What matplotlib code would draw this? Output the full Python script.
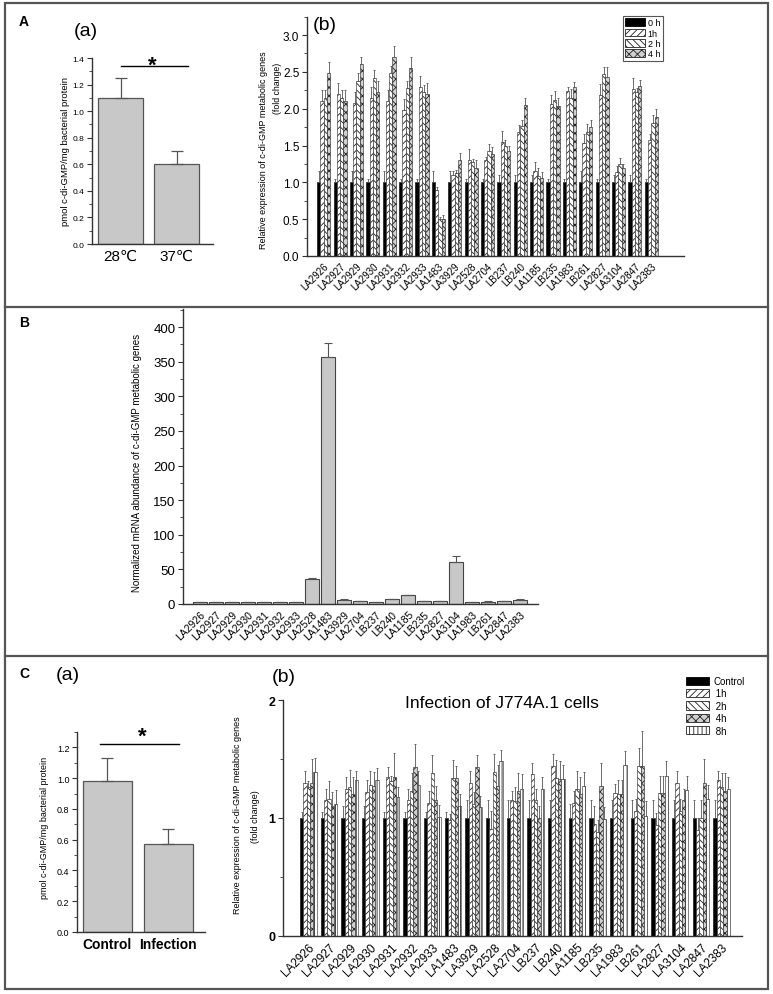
import matplotlib
matplotlib.use('Agg')
import matplotlib.pyplot as plt
from matplotlib.patches import Rectangle, Patch
from matplotlib.lines import Line2D
from matplotlib.ticker import MultipleLocator
import numpy as np

plt.rcParams['font.family'] = ['Liberation Sans', 'DejaVu Sans']
plt.rcParams['hatch.linewidth'] = 0.6

W, H = 773, 995

# ---------------- data ----------------
# A(a)
temp_labels = ['28℃', '37℃']
temp_vals = [1.10, 0.60]
temp_err = [0.15, 0.10]

# A(b)
genes_ab = ['LA2926', 'LA2927', 'LA2929', 'LA2930', 'LA2931', 'LA2932', 'LA2933',
            'LA1483', 'LA3929', 'LA2528', 'LA2704', 'LB237', 'LB240', 'LA1185',
            'LB235', 'LA1983', 'LB261', 'LA2827', 'LA3104', 'LA2847', 'LA2383']
ab_labels = ['0 h', '1h', '2 h', '4 h']
ab_0h = [1.0] * 21
ab_0h_err = [0.15, 0.05, 0.15, 0.05, 0.15, 0.05, 0.05, 0.15, 0.15, 0.05, 0.05,
             0.10, 0.10, 0.10, 0.05, 0.05, 0.15, 0.05, 0.10, 0.10, 0.05]
ab_1h = [2.10, 2.20, 2.08, 2.15, 2.10, 1.98, 2.30, 0.90, 1.10, 1.30, 1.30,
         1.55, 1.68, 1.15, 2.06, 2.24, 1.53, 2.19, 1.14, 2.27, 1.58]
ab_1h_err = [0.15, 0.15, 0.15, 0.15, 0.15, 0.15, 0.15, 0.03, 0.05, 0.15, 0.05,
             0.15, 0.10, 0.12, 0.12, 0.05, 0.12, 0.15, 0.08, 0.15, 0.07]
ab_2h = [2.15, 2.15, 2.38, 2.42, 2.48, 2.28, 2.22, 0.50, 1.12, 1.27, 1.42,
         1.49, 1.77, 1.08, 2.12, 2.15, 1.69, 2.47, 1.25, 2.23, 1.81]
ab_2h_err = [0.10, 0.10, 0.10, 0.10, 0.10, 0.10, 0.10, 0.03, 0.05, 0.05, 0.10,
             0.08, 0.07, 0.12, 0.12, 0.12, 0.10, 0.10, 0.08, 0.05, 0.10]
ab_4h = [2.48, 2.10, 2.60, 2.23, 2.70, 2.55, 2.20, 0.50, 1.30, 1.20, 1.38,
         1.42, 2.05, 1.06, 2.04, 2.29, 1.75, 2.43, 1.19, 2.31, 1.89]
ab_4h_err = [0.15, 0.15, 0.10, 0.15, 0.15, 0.15, 0.15, 0.05, 0.10, 0.10, 0.10,
             0.08, 0.10, 0.08, 0.10, 0.07, 0.10, 0.14, 0.06, 0.08, 0.10]

# B
genes_b = ['LA2926', 'LA2927', 'LA2929', 'LA2930', 'LA2931', 'LA2932', 'LA2933',
           'LA2528', 'LA1483', 'LA3929', 'LA2704', 'LB237', 'LB240', 'LA1185',
           'LB235', 'LA2827', 'LA3104', 'LA1983', 'LB261', 'LA2847', 'LA2383']
b_vals = [2.5, 2.5, 2.5, 2.5, 2.5, 2.5, 2.5, 36, 357, 6, 4, 3, 7, 13,
          4.5, 4.5, 60, 3, 3.5, 4, 6]
b_err = [0.3, 0.3, 0.3, 0.3, 0.3, 0.3, 0.3, 1.5, 20, 0.5, 0.3, 0.3, 0.5, 0.6,
         0.3, 0.3, 10, 0.3, 0.3, 0.3, 0.6]

# C(a)
inf_labels = ['Control', 'Infection']
inf_vals = [0.98, 0.57]
inf_err = [0.15, 0.10]

# C(b)
genes_cb = genes_ab
cb_labels = ['Control', ' 1h', ' 2h', ' 4h', ' 8h']
cb_ctrl = [1.0] * 21
cb_ctrl_err = [0.05, 0.05, 0.10, 0.10, 0.05, 0.05, 0.05, 0.05, 0.15, 0.15, 0.15,
               0.15, 0.15, 0.12, 0.15, 0.15, 0.15, 0.15, 0.15, 0.15, 0.15]
cb_1h = [1.30, 1.15, 1.25, 1.22, 1.35, 1.15, 1.13, 0.98, 1.30, 0.91, 1.15,
         1.37, 1.44, 1.13, 0.95, 1.21, 1.06, 0.94, 1.30, 0.90, 1.32]
cb_1h_err = [0.10, 0.10, 0.10, 0.10, 0.08, 0.10, 0.10, 0.05, 0.10, 0.15, 0.08,
             0.10, 0.10, 0.10, 0.15, 0.08, 0.10, 0.10, 0.10, 0.10, 0.08]
cb_2h = [1.26, 1.16, 1.26, 1.28, 1.31, 1.23, 1.38, 1.34, 1.12, 1.39, 1.14,
         1.15, 1.34, 1.25, 0.88, 1.20, 1.44, 1.21, 1.06, 1.00, 1.26]
cb_2h_err = [0.05, 0.15, 0.15, 0.12, 0.05, 0.15, 0.15, 0.15, 0.10, 0.15, 0.12,
             0.10, 0.15, 0.15, 0.10, 0.12, 0.15, 0.15, 0.10, 0.15, 0.12]
cb_4h = [1.30, 1.10, 1.20, 1.27, 1.35, 1.43, 1.15, 1.34, 1.43, 1.27, 1.23,
         1.00, 1.33, 1.20, 1.27, 1.20, 1.44, 1.21, 1.15, 1.30, 1.23]
cb_4h_err = [0.20, 0.12, 0.15, 0.12, 0.20, 0.20, 0.12, 0.10, 0.10, 0.18, 0.15,
             0.10, 0.15, 0.15, 0.20, 0.12, 0.30, 0.15, 0.10, 0.20, 0.15]
cb_8h = [1.39, 1.12, 1.32, 1.32, 1.18, 1.28, 1.01, 1.10, 1.09, 1.48, 1.25,
         1.25, 1.33, 1.27, 0.99, 1.45, 1.02, 1.36, 1.24, 1.16, 1.25]
cb_8h_err = [0.12, 0.12, 0.08, 0.10, 0.08, 0.12, 0.10, 0.10, 0.10, 0.10, 0.12,
             0.10, 0.12, 0.12, 0.10, 0.12, 0.12, 0.12, 0.12, 0.12, 0.10]

# ---------------- figure ----------------
fig = plt.figure(figsize=(W / 100, H / 100), dpi=100)

def axpx(x0, y0, x1, y1):
    return fig.add_axes([x0 / W, 1 - y1 / H, (x1 - x0) / W, (y1 - y0) / H])

def ftext(x, y, s, **kw):
    fig.text(x / W, 1 - y / H, s, **kw)

SP = '#333333'
GRAY = '#c8c8c8'

def style(ax, ylab_size):
    for s in ['top', 'right']:
        ax.spines[s].set_visible(False)
    for s in ['left', 'bottom']:
        ax.spines[s].set_color(SP)
        ax.spines[s].set_linewidth(1.0)
    ax.tick_params(axis='y', direction='out', length=3.5, width=0.8, color=SP,
                   labelsize=ylab_size, pad=2)
    ax.tick_params(axis='y', which='minor', direction='out', length=2, width=0.6, color=SP)
    ax.tick_params(axis='x', length=0)

def up_err(ax, x, y, e, cap=1.5, lw=0.7):
    ax.errorbar(x, y, yerr=[np.zeros(len(e)), e], fmt='none', ecolor='#555555',
                elinewidth=lw, capsize=cap, capthick=lw)

# border
border = Rectangle((5 / W, 1 - 990 / H), 763 / W, 986 / H, transform=fig.transFigure,
                   fill=False, edgecolor='#555555', linewidth=1.6)
fig.add_artist(border)
for yy in [308, 657]:
    fig.add_artist(Line2D([5 / W, 768 / W], [1 - yy / H, 1 - yy / H],
                          transform=fig.transFigure, color='#555555', linewidth=1.6))

# ---------------- A(a) ----------------
ax = axpx(92, 59, 213, 245)
xa = np.arange(2)
ax.bar(xa, temp_vals, width=0.8, color=GRAY, edgecolor='#555555', linewidth=0.9)
up_err(ax, xa, temp_vals, temp_err, cap=4, lw=0.9)
ax.set_xlim(-0.51, 1.65)
ax.set_ylim(0, 1.4)
ax.yaxis.set_major_locator(MultipleLocator(0.2))
ax.yaxis.set_minor_locator(MultipleLocator(0.1))
ax.set_yticklabels([f'{v:.1f}' for v in ax.get_yticks()])
style(ax, 6)
ax.set_xticks(xa)
ax.set_xticklabels(temp_labels, fontsize=11)
ax.plot([0.0, 1.2], [1.34, 1.34], color='black', lw=1.0, clip_on=False)
ftext(65, 152, 'pmol c-di-GMP/mg bacterial protein', rotation=90, fontsize=6.8,
      ha='center', va='center')
ftext(152, 66, '*', fontsize=16, fontweight='bold', ha='center', va='center')
ftext(24, 22, 'A', fontsize=10, fontweight='bold', ha='center', va='center')
ftext(86, 31, '(a)', fontsize=14, ha='center', va='center')

# ---------------- A(b) ----------------
ax = axpx(307, 17.6, 684, 257)
xg = np.arange(len(genes_ab))
bw = 0.2
series = [
    (ab_0h, ab_0h_err, dict(facecolor='black', edgecolor='black')),
    (ab_1h, ab_1h_err, dict(facecolor='white', edgecolor='#222222', hatch='/////')),
    (ab_2h, ab_2h_err, dict(facecolor='white', edgecolor='#222222', hatch='\\\\\\\\\\')),
    (ab_4h, ab_4h_err, dict(facecolor='#d0d0d0', edgecolor='#222222', hatch='xxxx')),
]
handles = []
for j, (v, e, kw) in enumerate(series):
    xs = xg + (j - 1.5) * bw
    ax.bar(xs, v, width=bw, linewidth=0.4, **kw)
    up_err(ax, xs, v, e, cap=1.0, lw=0.6)
    handles.append(Patch(linewidth=0.6, **kw))
ax.set_xlim(-1.02, 22.0)
ax.set_ylim(0, 3.25)
ax.yaxis.set_major_locator(MultipleLocator(0.5))
ax.yaxis.set_minor_locator(MultipleLocator(0.25))
ax.set_yticklabels([f'{v:.1f}' for v in ax.get_yticks()])
style(ax, 8.5)
ax.set_xticks(xg)
ax.set_xticklabels(genes_ab, rotation=45, ha='right', rotation_mode='anchor', fontsize=7)
ftext(263, 150, 'Relative expression of c-di-GMP metabolic genes', rotation=90,
      fontsize=6.5, ha='center', va='center')
ftext(278, 88, '(fold change)', rotation=90, fontsize=6.3, ha='center', va='center')
ftext(325, 25, '(b)', fontsize=14, ha='center', va='center')
leg = fig.legend(handles, ab_labels, loc='upper left', bbox_to_anchor=(623 / W, 1 - 17 / H),
                 fontsize=6.5, handlelength=2.2, handleheight=0.9, labelspacing=0.15,
                 borderpad=0.25, handletextpad=0.3, borderaxespad=0, fancybox=False,
                 framealpha=1)
leg.get_frame().set_edgecolor('#555555')
leg.get_frame().set_linewidth(0.8)

# ---------------- B ----------------
ax = axpx(183, 310, 538, 605)
xb = np.arange(len(genes_b))
ax.bar(xb, b_vals, width=0.85, color=GRAY, edgecolor='#444444', linewidth=0.8)
up_err(ax, xb, b_vals, b_err, cap=3, lw=0.8)
ax.set_xlim(-1.05, 21.12)
ax.set_ylim(0, 426)
ax.yaxis.set_major_locator(MultipleLocator(50))
ax.yaxis.set_minor_locator(MultipleLocator(25))
style(ax, 9.5)
ax.set_xticks(xb)
ax.set_xticklabels(genes_b, rotation=45, ha='right', rotation_mode='anchor', fontsize=7.5)
ftext(137, 463, 'Normalized mRNA abundance of c-di-GMP metabolic genes', rotation=90,
      fontsize=7, ha='center', va='center')
ftext(24, 323, 'B', fontsize=10, fontweight='bold', ha='center', va='center')

# ---------------- C(a) ----------------
ax = axpx(77, 733, 205, 933)
xc = np.arange(2)
ax.bar(xc, inf_vals, width=0.8, color=GRAY, edgecolor='#555555', linewidth=0.9)
up_err(ax, xc, inf_vals, inf_err, cap=4, lw=0.9)
ax.set_xlim(-0.5, 1.6)
ax.set_ylim(0, 1.3)
ax.yaxis.set_minor_locator(MultipleLocator(0.1))
ax.set_yticks(np.arange(0, 1.21, 0.2))
ax.set_yticklabels([f'{v:.1f}' for v in np.arange(0, 1.21, 0.2)])
style(ax, 6.5)
ax.set_xticks(xc)
ax.set_xticklabels(inf_labels, fontsize=10, fontweight='bold')
ax.plot([-0.13, 1.17], [1.22, 1.22], color='black', lw=1.0, clip_on=False)
ftext(142, 737, '*', fontsize=16, fontweight='bold', ha='center', va='center')
ftext(45, 828, 'pmol c-di-GMP/mg bacterial protein', rotation=90, fontsize=6.5,
      ha='center', va='center')
ftext(24, 674, 'C', fontsize=10, fontweight='bold', ha='center', va='center')
ftext(68, 676, '(a)', fontsize=14, ha='center', va='center')

# ---------------- C(b) ----------------
ax = axpx(283, 701, 742, 937)
xg = np.arange(len(genes_cb))
bw = 0.16
series = [
    (cb_ctrl, cb_ctrl_err, dict(facecolor='black', edgecolor='black')),
    (cb_1h, cb_1h_err, dict(facecolor='white', edgecolor='#222222', hatch='/////')),
    (cb_2h, cb_2h_err, dict(facecolor='white', edgecolor='#222222', hatch='\\\\\\\\\\')),
    (cb_4h, cb_4h_err, dict(facecolor='#d0d0d0', edgecolor='#222222', hatch='xxxx')),
    (cb_8h, cb_8h_err, dict(facecolor='white', edgecolor='#222222', hatch='||||')),
]
handles = []
for j, (v, e, kw) in enumerate(series):
    xs = xg + (j - 2) * bw
    ax.bar(xs, v, width=bw, linewidth=0.4, **kw)
    up_err(ax, xs, v, e, cap=1.0, lw=0.6)
    handles.append(Patch(linewidth=0.6, **kw))
ax.set_xlim(-1.23, 20.99)
ax.set_ylim(0, 2)
ax.set_yticks([0, 1, 2])
ax.set_yticklabels(['0', '1', '2'], fontweight='bold')
ax.yaxis.set_minor_locator(MultipleLocator(0.5))
style(ax, 9)
ax.set_xticks(xg)
ax.set_xticklabels(genes_cb, rotation=45, ha='right', rotation_mode='anchor', fontsize=8.5)
ftext(502, 703, 'Infection of J774A.1 cells', fontsize=12.5, ha='center', va='center')
ftext(238, 815, 'Relative expression of c-di-GMP metabolic genes', rotation=90,
      fontsize=6.5, ha='center', va='center')
ftext(256, 817, '(fold change)', rotation=90, fontsize=6.5, ha='center', va='center')
ftext(284, 677, '(b)', fontsize=14, ha='center', va='center')
leg = fig.legend(handles, cb_labels, loc='upper left',
                 bbox_to_anchor=(686 / W, 1 - 677 / H), fontsize=7, handlelength=2.4,
                 handleheight=0.9, labelspacing=0.25, borderpad=0, handletextpad=0.4,
                 borderaxespad=0, frameon=False)

fig.savefig('out.png', dpi=100)
